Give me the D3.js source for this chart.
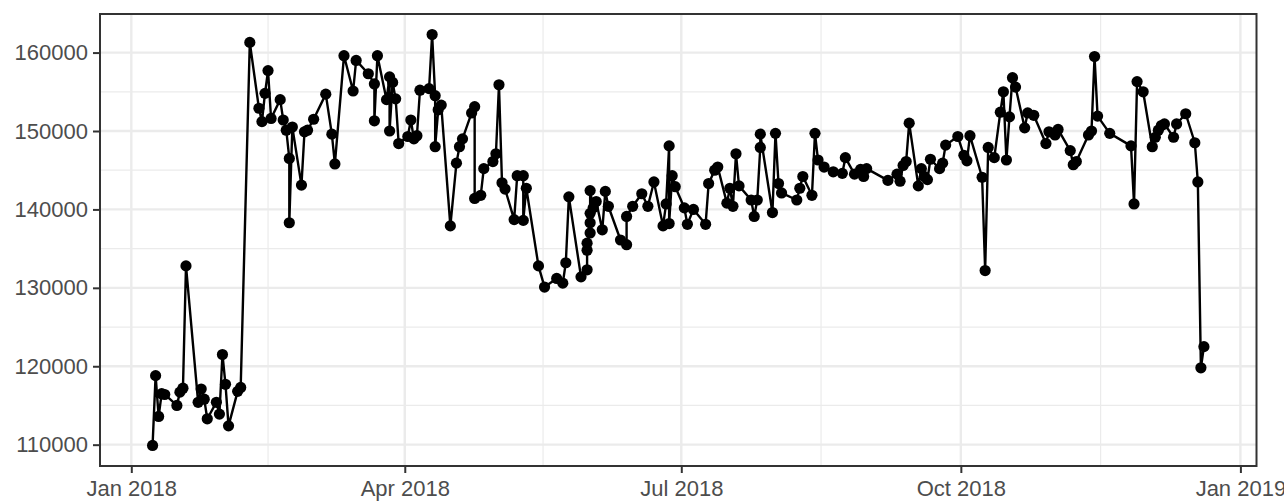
<!DOCTYPE html>
<html>
<head>
<meta charset="utf-8">
<script src="https://cdn.jsdelivr.net/npm/d3@7"></script>
<style>
  body { margin: 0; background: #fff; }
  svg { display: block; }
  text { font-family: "Liberation Sans", Arial, Helvetica, sans-serif; }
</style>
</head>
<body>
<script>
// daily observations, 2018 (MM-DD)
const dates = [
  "01-08","01-09","01-10","01-11","01-12","01-16","01-17","01-18","01-19","01-23",
  "01-24","01-25","01-26","01-29","01-30","01-31","02-01","02-02","02-05","02-06",
  "02-09","02-12","02-13","02-14","02-15","02-16","02-19","02-20","02-21","02-22",
  "02-22","02-23","02-26","02-27","02-28","03-02","03-06","03-08","03-09","03-12",
  "03-15","03-16","03-20","03-22","03-22","03-23","03-26","03-27","03-27","03-28",
  "03-29","03-30","04-02","04-03","04-04","04-05","04-06","04-09","04-10","04-11",
  "04-11","04-12","04-13","04-16","04-18","04-19","04-20","04-23","04-24","04-24",
  "04-26","04-27","04-30","05-01","05-02","05-03","05-04","05-07","05-08","05-10",
  "05-10","05-11","05-15","05-17","05-21","05-23","05-24","05-25","05-29","05-31",
  "05-31","05-31","06-01","06-01","06-01","06-01","06-02","06-03","06-05","06-06",
  "06-07","06-11","06-13","06-13","06-15","06-18","06-20","06-22","06-25","06-26",
  "06-27","06-27","06-28","06-29","07-02","07-03","07-05","07-09","07-10","07-12",
  "07-13","07-16","07-17","07-18","07-19","07-20","07-24","07-25","07-26","07-27",
  "07-27","07-31","08-01","08-02","08-03","08-08","08-09","08-10","08-13","08-14",
  "08-15","08-17","08-20","08-23","08-24","08-27","08-29","08-30","08-31","09-07",
  "09-10","09-11","09-12","09-13","09-14","09-17","09-18","09-19","09-20","09-21",
  "09-24","09-25","09-26","09-30","10-02","10-03","10-04","10-08","10-09","10-10",
  "10-12","10-14","10-15","10-16","10-17","10-18","10-19","10-22","10-23","10-25",
  "10-29","10-30","11-01","11-02","11-06","11-07","11-08","11-12","11-13","11-14",
  "11-15","11-19","11-26","11-27","11-28","11-30","12-03","12-04","12-05","12-06",
  "12-07","12-10","12-11","12-14","12-17","12-18","12-19","12-20"
];

const values = [
  109900,118800,113600,116500,116400,115000,116700,117200,132800,115400,
  117100,115800,113300,115400,113900,121500,117700,112400,116800,117300,
  161300,152900,151200,154800,157700,151600,154000,151400,150100,146500,
  138300,150500,143100,149900,150100,151500,154700,149600,145800,159600,
  155100,159000,157300,156000,151300,159600,154000,156900,150000,156200,
  154100,148400,149300,151400,149000,149400,155200,155400,162300,154500,
  148000,152700,153300,137900,145900,148000,149000,152300,153100,141400,
  141800,145200,146100,147100,155900,143400,142600,138700,144300,144300,
  138600,142700,132800,130100,131200,130600,133200,141600,131400,132300,
  134800,135700,137000,138300,139500,142400,140200,141000,137400,142300,
  140400,136100,135500,139100,140400,142000,140400,143500,137900,140700,
  148100,138200,144300,142900,140200,138100,140000,138100,143300,145000,
  145400,140800,142700,140400,147100,143000,141200,139100,141200,147900,
  149600,139600,149700,143300,142100,141200,142700,144200,141800,149700,
  146300,145400,144800,144600,146600,144500,145100,144200,145200,143700,
  144500,143600,145600,146100,151000,143000,145200,144200,143800,146400,
  145200,145900,148200,149300,146900,146200,149400,144100,132200,147900,
  146600,152400,155000,146300,151800,156800,155600,150400,152300,152000,
  148400,149900,149500,150200,147500,145700,146100,149500,150000,159500,
  151900,149700,148100,140700,156300,155000,148000,149200,150100,150700,
  150900,149200,150900,152200,148500,143500,119800,122500
];

const yTicks = [110000, 120000, 130000, 140000, 150000, 160000];
const xTicks = ["2018-01-01", "2018-04-01", "2018-07-01", "2018-10-01", "2019-01-01"];
const xTickLabels = ["Jan 2018", "Apr 2018", "Jul 2018", "Oct 2018", "Jan 2019"];

const width = 1284, height = 501;
const panel = { left: 100, right: 1256.5, top: 14, bottom: 466 };

const parseDay = d3.timeParse("%Y-%m-%d");
const data = dates.map((d, i) => ({ date: parseDay("2018-" + d), value: values[i] }));

// ggplot-style 5% expansion of the data range
function expand(ext) {
  const pad = (ext[1] - ext[0]) * 0.05;
  return [ext[0] - pad, ext[1] + pad];
}
const xExt = d3.extent(data, d => +d.date);
const xPad = (xExt[1] - xExt[0]) * 0.05;
const x = d3.scaleTime()
  .domain([new Date(xExt[0] - xPad), new Date(xExt[1] + xPad)])
  .range([panel.left, panel.right]);
const y = d3.scaleLinear()
  .domain(expand(d3.extent(values)))
  .range([panel.bottom, panel.top]);

const svg = d3.select("body").append("svg")
  .attr("width", width)
  .attr("height", height);

// minor grid
const xMajor = xTicks.map(parseDay);
const xMinor = [];
for (let i = 0; i < xMajor.length - 1; i++) {
  xMinor.push(new Date((+xMajor[i] + +xMajor[i + 1]) / 2));
}
const yMinor = d3.range(105000, 170000, 10000)
  .filter(v => y(v) > panel.top && y(v) < panel.bottom);

const grid = svg.append("g");
grid.selectAll(".ymin").data(yMinor).join("line")
  .attr("x1", panel.left).attr("x2", panel.right)
  .attr("y1", d => y(d)).attr("y2", d => y(d))
  .attr("stroke", "#ebebeb").attr("stroke-width", 1.2);
grid.selectAll(".xmin").data(xMinor.filter(d => x(d) > panel.left && x(d) < panel.right)).join("line")
  .attr("y1", panel.top).attr("y2", panel.bottom)
  .attr("x1", d => x(d)).attr("x2", d => x(d))
  .attr("stroke", "#ebebeb").attr("stroke-width", 1.2);
grid.selectAll(".ymaj").data(yTicks).join("line")
  .attr("x1", panel.left).attr("x2", panel.right)
  .attr("y1", d => y(d)).attr("y2", d => y(d))
  .attr("stroke", "#ebebeb").attr("stroke-width", 2.4);
grid.selectAll(".xmaj").data(xMajor).join("line")
  .attr("y1", panel.top).attr("y2", panel.bottom)
  .attr("x1", d => x(d)).attr("x2", d => x(d))
  .attr("stroke", "#ebebeb").attr("stroke-width", 2.4);

// series
const line = d3.line().x(d => x(d.date)).y(d => y(d.value));
svg.append("path")
  .datum(data)
  .attr("d", line)
  .attr("fill", "none")
  .attr("stroke", "#000")
  .attr("stroke-width", 2.4)
  .attr("stroke-linejoin", "round");

svg.append("g").selectAll("circle").data(data).join("circle")
  .attr("cx", d => x(d.date))
  .attr("cy", d => y(d.value))
  .attr("r", 5.6)
  .attr("fill", "#000");

// panel border
svg.append("rect")
  .attr("x", panel.left).attr("y", panel.top)
  .attr("width", panel.right - panel.left)
  .attr("height", panel.bottom - panel.top)
  .attr("fill", "none")
  .attr("stroke", "#333333")
  .attr("stroke-width", 2);

// axes
const yAxis = d3.axisLeft(y).tickValues(yTicks).tickSize(7).tickPadding(5)
  .tickFormat(d3.format("d"));
const xAxis = d3.axisBottom(x).tickValues(xMajor).tickSize(7).tickPadding(7)
  .tickFormat((d, i) => xTickLabels[i]);

function styleAxis(g) {
  g.select(".domain").remove();
  g.selectAll(".tick line").attr("stroke", "#333333").attr("stroke-width", 2);
  g.selectAll(".tick text").attr("fill", "#4d4d4d").style("font-size", "22px");
}

svg.append("g")
  .attr("transform", `translate(${panel.left},0)`)
  .call(yAxis)
  .call(styleAxis);

svg.append("g")
  .attr("transform", `translate(0,${panel.bottom})`)
  .call(xAxis)
  .call(styleAxis);
</script>
</body>
</html>
